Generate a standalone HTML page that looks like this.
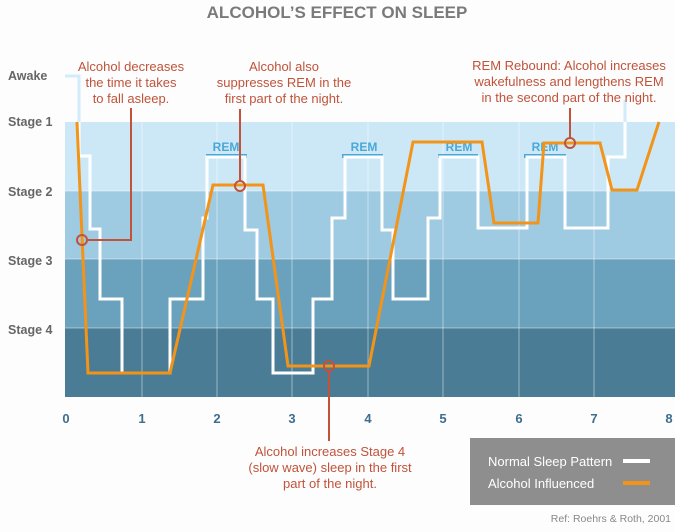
<!DOCTYPE html>
<html><head><meta charset="utf-8"><style>
html,body{margin:0;padding:0;background:#fff;}
svg{display:block;}
text{font-family:"Liberation Sans",Arial,sans-serif;}
</style></head><body>
<svg width="675" height="532" viewBox="0 0 675 532" xmlns="http://www.w3.org/2000/svg">
<rect width="675" height="532" fill="#fdfdfd"/>
<text x="337" y="18" text-anchor="middle" font-size="17" font-weight="bold" fill="#7a7a7a">ALCOHOL’S EFFECT ON SLEEP</text>
<rect x="65" y="122" width="610" height="69" fill="#cce8f7"/>
<rect x="65" y="191" width="610" height="68" fill="#9ecae2"/>
<rect x="65" y="259" width="610" height="69" fill="#6aa2bd"/>
<rect x="65" y="328" width="610" height="69" fill="#4a7c95"/>
<g stroke="#ffffff" stroke-opacity="0.45" stroke-width="1">
<line x1="65" y1="191" x2="675" y2="191"/><line x1="65" y1="259" x2="675" y2="259"/><line x1="65" y1="328" x2="675" y2="328"/>
<line x1="142" y1="122" x2="142" y2="397"/><line x1="217" y1="122" x2="217" y2="397"/><line x1="292" y1="122" x2="292" y2="397"/>
<line x1="368" y1="122" x2="368" y2="397"/><line x1="443" y1="122" x2="443" y2="397"/><line x1="519" y1="122" x2="519" y2="397"/>
<line x1="594" y1="122" x2="594" y2="397"/>
</g>
<g font-size="12.5" font-weight="bold" fill="#666">
<text x="8" y="80">Awake</text><text x="8" y="126">Stage 1</text><text x="8" y="196">Stage 2</text><text x="8" y="265">Stage 3</text><text x="8" y="334">Stage 4</text>
</g>
<g font-size="13" font-weight="bold" fill="#3d6e8f" text-anchor="middle">
<text x="66" y="423">0</text><text x="142" y="423">1</text><text x="217" y="423">2</text><text x="292" y="423">3</text><text x="368" y="423">4</text><text x="443" y="423">5</text><text x="519" y="423">6</text><text x="594" y="423">7</text><text x="669" y="423">8</text>
</g>
<g fill="#4aa8d8">
<rect x="206" y="154" width="41" height="4"/><rect x="342" y="154" width="41" height="4"/><rect x="438" y="154" width="40" height="4"/><rect x="524" y="154" width="42" height="4"/>
</g>
<g font-size="12" font-weight="bold" fill="#4aa8d8" text-anchor="middle">
<text x="226" y="151">REM</text><text x="364" y="151">REM</text><text x="459" y="151">REM</text><text x="545" y="151">REM</text>
</g>
<polyline fill="none" stroke="#d4ecfa" stroke-width="3" points="65,76 79,76 79,122"/>
<polyline fill="none" stroke="#d4ecfa" stroke-width="3" points="625,122 625,100"/>
<polyline fill="none" stroke="#ffffff" stroke-width="3" points="79,122 79,156 90,156 90,229 100,229 100,299 122,299 122,373 170,373 170,299 203,299 203,218 207,218 207,157 245,157 245,230 257,230 257,299 273,299 273,373 313,373 313,299 332,299 332,218 345,218 345,157 382,157 382,230 393,230 393,299 428,299 428,218 440,218 440,157 478,157 478,228 527,228 527,157 565,157 565,228 608,228 608,157 625,157 625,122"/>
<polyline fill="none" stroke="#f39419" stroke-width="3" points="77,122 88,373 170,373 213,185 263,185 288,366 369,366 413,142 482,142 494,223 538,223 544,143 600,143 612,190 637,190 659,122"/>
<g stroke="#c0533a" stroke-width="2" fill="none">
<polyline points="88,240 131,240 131,108"/>
<line x1="240" y1="181" x2="240" y2="109"/>
<line x1="329" y1="371" x2="329" y2="441"/>
<line x1="570" y1="138" x2="570" y2="108"/>
<circle cx="82" cy="240" r="5"/><circle cx="240" cy="186" r="5"/><circle cx="329" cy="366" r="5"/><circle cx="570" cy="143" r="5"/>
</g>
<g font-size="13" fill="#c0533a" text-anchor="middle">
<text x="131" y="71">Alcohol decreases</text><text x="131" y="87">the time it takes</text><text x="131" y="103">to fall asleep.</text>
<text x="284" y="71">Alcohol also</text><text x="284" y="87">suppresses REM in the</text><text x="284" y="103">first part of the night.</text>
<text x="569" y="70">REM Rebound: Alcohol increases</text><text x="569" y="86">wakefulness and lengthens REM</text><text x="569" y="102">in the second part of the night.</text>
<text x="330" y="456">Alcohol increases Stage 4</text><text x="330" y="472">(slow wave) sleep in the first</text><text x="330" y="488">part of the night.</text>
</g>
<rect x="470" y="438" width="205" height="67" fill="#8e8e8e"/>
<g font-size="13" fill="#ffffff"><text x="488" y="466">Normal Sleep Pattern</text><text x="488" y="488">Alcohol Influenced</text></g>
<rect x="623" y="459" width="27" height="4" fill="#ffffff"/>
<rect x="623" y="481" width="27" height="4" fill="#f39419"/>
<text x="671" y="522" font-size="10.5" fill="#888" text-anchor="end">Ref: Roehrs &amp; Roth, 2001</text>
</svg>
</body></html>
